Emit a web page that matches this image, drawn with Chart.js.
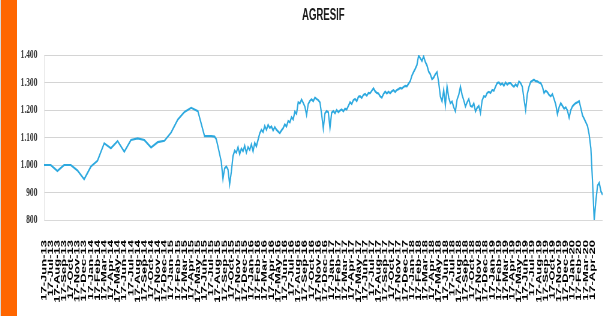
<!DOCTYPE html>
<html>
<head>
<meta charset="utf-8">
<script src="https://cdn.jsdelivr.net/npm/chart.js@4/dist/chart.umd.min.js"></script>
<style>
  html, body { margin: 0; padding: 0; background: #fff; overflow: hidden; width: 609px; height: 316px; }
  #edge { position: absolute; left: 0; top: 0; width: 1px; height: 316px; background: #d8d8d8; }
  #bar { position: absolute; left: 1px; top: 0; width: 16px; height: 316px; background: #ff6600; }
  /* the source chart is squeezed sideways, so the canvas is drawn wide and narrowed */
  #wrap { position: absolute; left: 17px; top: 0; width: 987px; height: 316px; transform: scaleX(0.6); transform-origin: 0 0; }
</style>
</head>
<body>
<div id="edge"></div><div id="bar"></div>
<div id="wrap"><canvas id="agresifChart" width="987" height="316"></canvas></div>
<script>
// x tick labels, one per month (x = 0 is 17-Jun-13)
const monthLabels = [
  '17-Jun-13','17-Jul-13','17-Aug-13','17-Sep-13','17-Oct-13','17-Nov-13','17-Dec-13',
  '17-Jan-14','17-Feb-14','17-Mar-14','17-Apr-14','17-May-14','17-Jun-14','17-Jul-14','17-Aug-14','17-Sep-14','17-Oct-14','17-Nov-14','17-Dec-14',
  '17-Jan-15','17-Feb-15','17-Mar-15','17-Apr-15','17-May-15','17-Jun-15','17-Jul-15','17-Aug-15','17-Sep-15','17-Oct-15','17-Nov-15','17-Dec-15',
  '17-Jan-16','17-Feb-16','17-Mar-16','17-Apr-16','17-May-16','17-Jun-16','17-Jul-16','17-Aug-16','17-Sep-16','17-Oct-16','17-Nov-16','17-Dec-16',
  '17-Jan-17','17-Feb-17','17-Mar-17','17-Apr-17','17-May-17','17-Jun-17','17-Jul-17','17-Aug-17','17-Sep-17','17-Oct-17','17-Nov-17','17-Dec-17',
  '17-Jan-18','17-Feb-18','17-Mar-18','17-Apr-18','17-May-18','17-Jun-18','17-Jul-18','17-Aug-18','17-Sep-18','17-Oct-18','17-Nov-18','17-Dec-18',
  '17-Jan-19','17-Feb-19','17-Mar-19','17-Apr-19','17-May-19','17-Jun-19','17-Jul-19','17-Aug-19','17-Sep-19','17-Oct-19','17-Nov-19','17-Dec-19',
  '17-Jan-20','17-Feb-20','17-Mar-20','17-Apr-20'
];

// monthly NAV, Jun-13 .. Jul-15
const monthlyValues = [
  1000, 1000, 978, 1000, 1000, 980, 948, 994, 1016, 1079,
  1061, 1087, 1048, 1091, 1097, 1091, 1064, 1083, 1088, 1118,
  1165, 1193, 1208, 1196, 1105, 1105
];

// weekly NAV after that (start and step in months)
const weeklyStart = 25.5;
const weeklyStep = 0.25;
const weeklyValues = [
  1103, 1094, 1068, 1040, 1012, 950, 988, 995, 984, 930,
  975, 1032, 1052, 1045, 1065, 1040, 1060, 1050, 1070, 1045,
  1065, 1055, 1075, 1050, 1080, 1068, 1092, 1115, 1128, 1120,
  1142, 1128, 1146, 1135, 1140, 1126, 1138, 1128, 1122, 1116,
  1126, 1134, 1148, 1140, 1160, 1155, 1174, 1166, 1194, 1186,
  1228, 1224, 1238, 1226, 1212, 1182, 1222, 1233, 1239, 1232,
  1245, 1240, 1236, 1228, 1185, 1133, 1188, 1196, 1192, 1135,
  1190, 1196, 1188, 1200, 1192, 1198, 1202, 1195, 1205, 1202,
  1215, 1228, 1222, 1236, 1240, 1232, 1248, 1250, 1244, 1255,
  1258, 1252, 1262, 1261, 1270, 1279, 1268, 1262, 1260, 1250,
  1245, 1258, 1267, 1260, 1266, 1261, 1268, 1272, 1266, 1273,
  1276, 1280, 1278, 1284, 1288, 1286, 1296, 1305, 1325, 1338,
  1350, 1364, 1398, 1388, 1378, 1395, 1375, 1362, 1340, 1330,
  1312, 1318, 1330, 1338, 1300, 1250, 1232, 1272, 1218, 1285,
  1245, 1225, 1231, 1210, 1195, 1238, 1255, 1285, 1255, 1235,
  1213, 1228, 1240, 1215, 1212, 1224, 1195, 1208, 1215, 1189,
  1235, 1250, 1248, 1262, 1266, 1262, 1273, 1270, 1285, 1298,
  1300, 1292, 1297, 1288, 1300, 1292, 1298, 1298, 1290, 1285,
  1293, 1286, 1304, 1298, 1285, 1240, 1200, 1258, 1285, 1302,
  1306, 1310, 1305, 1304, 1300, 1298, 1285, 1262, 1270, 1265,
  1255, 1250, 1258, 1240, 1220, 1185, 1210, 1225, 1215, 1205,
  1210, 1198, 1172, 1200, 1213, 1220, 1225, 1228, 1232, 1207,
  1180, 1168, 1155, 1142, 1110, 1060, 940, 800, 870, 925,
  935, 905, 892
];

const yTicks = [800, 900, 1000, 1100, 1200, 1300, 1400];

const points = monthlyValues.map((v, i) => ({ x: i, y: v }))
  .concat(weeklyValues.map((v, i) => ({ x: weeklyStart + i * weeklyStep, y: v })));

// 1400 -> "1.400"
function dotThousands(v) {
  return String(v).replace(/\B(?=(\d{3})+(?!\d))/g, '.');
}

const ctx = document.getElementById('agresifChart').getContext('2d');
new Chart(ctx, {
  type: 'line',
  data: {
    datasets: [{
      data: points,
      borderColor: '#2ea9df',
      borderWidth: 2.2,
      pointRadius: 0,
      tension: 0,
      fill: false
    }]
  },
  options: {
    responsive: false,
    animation: false,
    layout: { padding: 0 },
    plugins: {
      legend: { display: false },
      tooltip: { enabled: false },
      title: {
        display: true,
        fullSize: false,
        text: 'AGRESIF',
        color: '#1a1a1a',
        font: { family: 'Liberation Sans', size: 16, weight: 'bold' },
        padding: { top: 6, bottom: 29.8 }
      }
    },
    scales: {
      x: {
        type: 'linear',
        min: 0,
        max: 83.5,
        grid: { display: false },
        border: { color: '#d9d9d9' },
        afterBuildTicks: s => { s.ticks = monthLabels.map((_, i) => ({ value: i })); },
        afterFit: s => { s.height = 96; },
        ticks: {
          autoSkip: false,
          minRotation: 90,
          maxRotation: 90,
          padding: 12,
          color: '#000',
          font: { family: 'Liberation Sans', size: 13, weight: 'bold' },
          callback: v => monthLabels[v]
        }
      },
      y: {
        min: 800,
        max: 1400,
        afterBuildTicks: s => { s.ticks = yTicks.map(v => ({ value: v })); },
        afterFit: s => { s.width = 45; },
        grid: { color: '#d4d4d4', drawTicks: false },
        border: { color: '#e4e4e4' },
        ticks: {
          padding: 11,
          color: '#333',
          font: { family: 'Liberation Sans Narrow', size: 12.5, weight: 'bold' },
          callback: v => dotThousands(v)
        }
      }
    }
  }
});
</script>
</body>
</html>
